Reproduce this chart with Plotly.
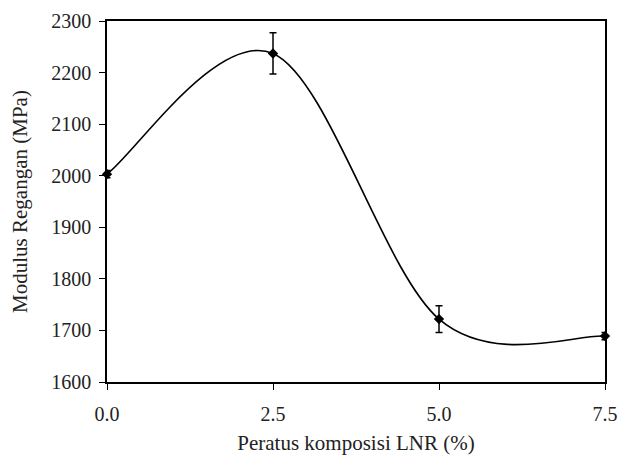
import plotly.graph_objects as go

lnr_percent = [0.0, 2.5, 5.0, 7.5]
modulus = [2003, 2237, 1722, 1689]
modulus_err = [7, 40, 26, 7]

x_ticks = [0.0, 2.5, 5.0, 7.5]


def smooth_path(xs, ys):
    """Spreadsheet-style smoothed line: cubic Bezier through the points,
    control points from neighbouring points (endpoints duplicated)."""
    n = len(xs)
    px = [xs[0]] + list(xs) + [xs[-1]]
    py = [ys[0]] + list(ys) + [ys[-1]]
    d = f"M {xs[0]},{ys[0]}"
    for i in range(1, n):
        a, b = i, i + 1
        c1x = px[a] + (px[a + 1] - px[a - 1]) / 6
        c1y = py[a] + (py[a + 1] - py[a - 1]) / 6
        c2x = px[b] - (px[b + 1] - px[b - 1]) / 6
        c2y = py[b] - (py[b + 1] - py[b - 1]) / 6
        d += f" C {c1x},{c1y} {c2x},{c2y} {px[b]},{py[b]}"
    return d


fig = go.Figure()
fig.add_trace(go.Scatter(
    x=lnr_percent, y=modulus,
    mode="markers",
    marker=dict(symbol="diamond", size=8, color="black"),
    error_y=dict(type="data", array=modulus_err, visible=True,
                 color="black", thickness=1.5, width=3.5),
    cliponaxis=False,
    showlegend=False,
))

fig.add_shape(
    type="path", xref="x", yref="y",
    path=smooth_path(lnr_percent, modulus),
    line=dict(color="black", width=1.6),
    layer="below",
)

font_family = "Liberation Serif, Times New Roman, serif"
fig.update_layout(
    width=619, height=455,
    margin=dict(l=107, r=14, t=21, b=73),
    paper_bgcolor="white", plot_bgcolor="white",
    font=dict(family=font_family, size=20, color="#222222"),
)
fig.update_xaxes(
    range=[0, 7.5], tickvals=x_ticks, tickformat=".1f",
    ticks="outside", ticklen=6, tickcolor="black", tickwidth=1,
    showline=True, linecolor="black", linewidth=1.5, mirror=True,
    showgrid=False, zeroline=False, automargin=False,
    ticklabelstandoff=7,
    title=dict(text="Peratus komposisi LNR (%)", font=dict(size=21), standoff=14),
    tickfont=dict(size=20),
)
fig.update_yaxes(
    range=[1600, 2300], dtick=100,
    ticks="outside", ticklen=6, tickcolor="black", tickwidth=1,
    showline=True, linecolor="black", linewidth=1.5, mirror=True,
    showgrid=False, zeroline=False, automargin=False,
    ticklabelstandoff=4,
    title=dict(text="Modulus Regangan (MPa)", font=dict(size=21), standoff=18),
    tickfont=dict(size=20),
)

# remove the default page margin so the figure fills the window exactly
fig.write_html(
    "out.html",
    config={"displayModeBar": False},
    post_script="document.body.style.margin='0';document.body.style.overflow='hidden';",
)
